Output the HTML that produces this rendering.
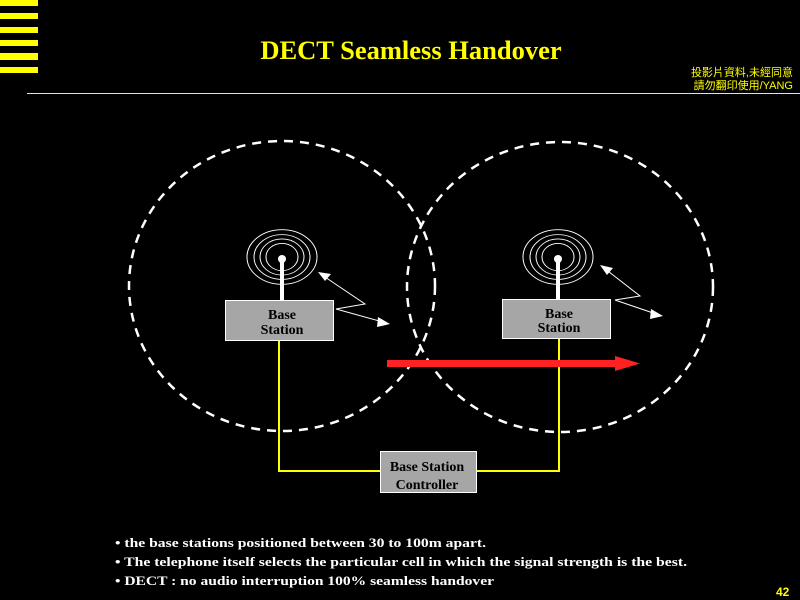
<!DOCTYPE html>
<html><head><meta charset="utf-8"><style>
html,body{margin:0;padding:0;background:#000;width:800px;height:600px;overflow:hidden}
</style></head><body>
<svg width="800" height="600" xmlns="http://www.w3.org/2000/svg" style="display:block">
<rect width="800" height="600" fill="#000"/>
<g fill="#ff0">
<rect x="0" y="0" width="38" height="6"/><rect x="0" y="13" width="38" height="6"/>
<rect x="0" y="27" width="38" height="6"/><rect x="0" y="40" width="38" height="6"/>
<rect x="0" y="53" width="38" height="7"/><rect x="0" y="67" width="38" height="6"/>
</g>
<rect x="27" y="93" width="773" height="1" fill="#ff0"/>
<text x="411" y="59" text-anchor="middle" font-family="Liberation Serif" font-weight="bold" font-size="26.5" fill="#ff0">DECT Seamless Handover</text>
<text x="793" y="76" text-anchor="end" font-family="Liberation Sans, Noto Sans CJK TC, sans-serif" font-size="11" fill="#ff0">投影片資料,未經同意</text>
<text x="793" y="89" text-anchor="end" font-family="Liberation Sans, Noto Sans CJK TC, sans-serif" font-size="11" fill="#ff0">請勿翻印使用/YANG</text>
<g fill="none" stroke="#fff" stroke-width="2.5" stroke-dasharray="9,7">
<ellipse cx="282" cy="286" rx="153" ry="145"/>
<ellipse cx="560" cy="287" rx="153" ry="145"/>
</g>
<g fill="none" stroke="#fff" stroke-width="1">
<circle cx="282" cy="257" r="35" transform="translate(282 257) scale(1 .78) translate(-282 -257)"/>
<circle cx="282" cy="257" r="28" transform="translate(282 257) scale(1 .8) translate(-282 -257)"/>
<circle cx="282" cy="257" r="22" transform="translate(282 257) scale(1 .82) translate(-282 -257)"/>
<circle cx="282" cy="257" r="16" transform="translate(282 257) scale(1 .85) translate(-282 -257)"/>
<circle cx="558" cy="257" r="35" transform="translate(558 257) scale(1 .78) translate(-558 -257)"/>
<circle cx="558" cy="257" r="28" transform="translate(558 257) scale(1 .8) translate(-558 -257)"/>
<circle cx="558" cy="257" r="22" transform="translate(558 257) scale(1 .82) translate(-558 -257)"/>
<circle cx="558" cy="257" r="16" transform="translate(558 257) scale(1 .85) translate(-558 -257)"/>
</g>
<g fill="#fff"><circle cx="282" cy="259" r="4"/><rect x="280" y="259" width="4" height="42"/>
<circle cx="558" cy="259" r="4"/><rect x="556" y="259" width="4" height="42"/></g>
<g stroke="#ff0" stroke-width="2" fill="none"><polyline points="279,340 279,471 559,471 559,338"/></g>
<g fill="#a6a6a6" stroke="#fff" stroke-width="1">
<rect x="225.5" y="300.5" width="108" height="40"/>
<rect x="502.5" y="299.5" width="108" height="39"/>
<rect x="380.5" y="451.5" width="96" height="41"/>
</g>
<g font-family="Liberation Serif" font-weight="bold" font-size="14" fill="#000" text-anchor="middle">
<text x="282" y="319">Base</text><text x="282" y="334">Station</text>
<text x="559" y="318">Base</text><text x="559" y="332">Station</text>
<text x="427" y="471">Base Station</text><text x="427" y="489">Controller</text>
</g>
<g stroke="#fff" stroke-width="1" fill="none">
<polyline points="322,275 365,304 336,309 383,322"/>
<polyline points="604,268 640,296 615,300 656,314"/>
</g>
<g fill="#fff">
<polygon points="318,272 331,274 325,281"/>
<polygon points="390,324 378,317 377,327"/>
<polygon points="600,265 613,268 607,275"/>
<polygon points="663,316 651,309 650,319"/>
</g>
<rect x="387" y="360" width="230" height="7" fill="#f22"/>
<polygon points="615,356 640,363.5 615,371" fill="#f22"/>
<g font-family="Liberation Serif" font-weight="bold" font-size="13" fill="#fff">
<text x="115" y="547" textLength="371" lengthAdjust="spacingAndGlyphs">• the base stations positioned between 30 to 100m apart.</text>
<text x="115" y="566" textLength="572" lengthAdjust="spacingAndGlyphs">• The telephone itself selects the particular  cell in which the signal strength is the best.</text>
<text x="115" y="585" textLength="379" lengthAdjust="spacingAndGlyphs">• DECT : no audio interruption 100% seamless handover</text>
</g>
<text x="776" y="596" font-family="Liberation Sans" font-weight="bold" font-size="12" fill="#ff0">42</text>
</svg>
</body></html>
